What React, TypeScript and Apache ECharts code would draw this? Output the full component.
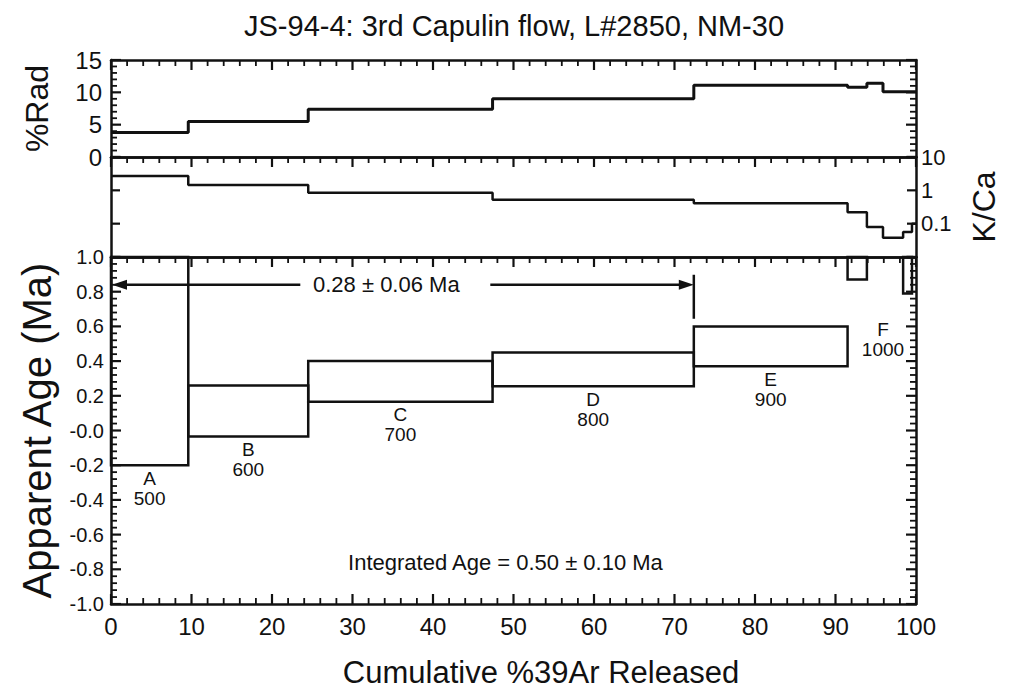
import { useEffect, useRef } from "react";
import * as echarts from "echarts";

// ---- data ----
const stepEdges = [0, 9.6, 24.5, 47.4, 72.4, 91.5, 93.9, 95.9, 98.4, 99.5, 100];
const stepLetters = ["A", "B", "C", "D", "E", "F", "", "", "", ""];
const stepTemps = ["500", "600", "700", "800", "900", "1000", "", "", "", ""];
const radPercent = [3.8, 5.5, 7.4, 9.0, 11.1, 10.8, 11.4, 10.1, 10.1, 10.1];
const kCa = [2.7, 1.45, 0.85, 0.52, 0.41, 0.22, 0.079, 0.038, 0.056, 0.1];
const ageLow = [-0.2, -0.035, 0.165, 0.255, 0.37, 0.87, 1.05, 1.05, 0.79, 1.05];
const ageHigh = [1.6, 0.26, 0.4, 0.45, 0.6, 1.5, 1.6, 1.6, 1.5, 1.5];
const kCaDecades = [0.01, 0.1, 1, 10];
const plateauFrom = 0;
const plateauTo = 72.4;
const plateauAge = 0.84;
const plateauText = "0.28 ± 0.06 Ma";
const integratedText = "Integrated Age = 0.50 ± 0.10 Ma";
const titleText = "JS-94-4: 3rd Capulin flow, L#2850, NM-30";
const xTitle = "Cumulative %39Ar Released";

const INK = "#111";
const FONT = "'Liberation Sans', Arial, sans-serif";

function stepLine(values: number[]) {
  const pts: number[][] = [];
  values.forEach((v, i) => {
    pts.push([stepEdges[i], v]);
    pts.push([stepEdges[i + 1], v]);
  });
  return pts;
}

const axisLine = { show: true, onZero: false, lineStyle: { color: INK, width: 2.5 } };
const noTick = { show: false };

function xAx(grid: number, pos: string, labels = false) {
  return {
    type: "value",
    gridIndex: grid,
    position: pos,
    min: 0,
    max: 100,
    interval: 10,
    axisLine,
    axisTick: noTick,
    axisLabel: labels
      ? { show: true, color: INK, fontFamily: FONT, fontSize: 24, margin: 10 }
      : { show: false },
    splitLine: { show: false },
  };
}

export default function App() {
  const ref = useRef<HTMLDivElement>(null);
  useEffect(() => {
    document.body.style.margin = "0";
    const chart = echarts.init(ref.current!, undefined, { renderer: "svg" });

    const boxData = stepLetters.map((_, i) => [stepEdges[i], stepEdges[i + 1], ageLow[i], ageHigh[i]]);

    const option: any = {
      animation: false,
      backgroundColor: "#fff",
      title: {
        text: titleText,
        left: 509,
        textAlign: "center",
        top: 6,
        textStyle: { color: INK, fontFamily: FONT, fontSize: 29, fontWeight: "normal" },
      },
      grid: [
        { left: 111, right: 96, top: 60, height: 97 },
        { left: 111, right: 96, top: 157, height: 100 },
        { left: 111, right: 96, top: 257, height: 347 },
      ],
      xAxis: [
        xAx(0, "bottom"),
        xAx(0, "top"),
        xAx(1, "bottom"),
        xAx(1, "top"),
        xAx(2, "bottom", true),
        xAx(2, "top"),
      ],
      yAxis: [
        {
          type: "value",
          gridIndex: 0,
          position: "left",
          min: 0,
          max: 15,
          interval: 5,
          axisLine,
          axisTick: noTick,
          axisLabel: { color: INK, fontFamily: FONT, fontSize: 24, margin: 9 },
          splitLine: { show: false },
          name: "%Rad",
          nameLocation: "middle",
          nameRotate: 90,
          nameGap: 58,
          nameTextStyle: { color: INK, fontFamily: FONT, fontSize: 32 },
        },
        {
          type: "value",
          gridIndex: 0,
          position: "right",
          min: 0,
          max: 15,
          interval: 5,
          axisLine,
          axisTick: noTick,
          axisLabel: { show: false },
          splitLine: { show: false },
        },
        {
          type: "log",
          logBase: 10,
          gridIndex: 1,
          position: "right",
          min: 0.01,
          max: 10,
          axisLine,
          axisTick: noTick,
          axisLabel: {
            color: INK,
            fontFamily: FONT,
            fontSize: 22,
            margin: 5,
            formatter: (v: number) => (v >= 0.09 ? String(v) : ""),
          },
          splitLine: { show: false },
          name: "K/Ca",
          nameLocation: "middle",
          nameRotate: 90,
          nameGap: 52,
          nameTextStyle: { color: INK, fontFamily: FONT, fontSize: 32 },
        },
        {
          type: "log",
          logBase: 10,
          gridIndex: 1,
          position: "left",
          min: 0.01,
          max: 10,
          axisLine,
          axisTick: noTick,
          axisLabel: { show: false },
          splitLine: { show: false },
        },
        {
          type: "value",
          gridIndex: 2,
          position: "left",
          min: -1,
          max: 1,
          interval: 0.2,
          axisLine,
          axisTick: noTick,
          axisLabel: {
            color: INK,
            fontFamily: FONT,
            fontSize: 20,
            margin: 7,
            formatter: (v: number) => (Math.abs(v) < 1e-9 ? "-0.0" : v.toFixed(1)),
          },
          splitLine: { show: false },
          name: "Apparent Age (Ma)",
          nameLocation: "middle",
          nameRotate: 90,
          nameGap: 54,
          nameTextStyle: { color: INK, fontFamily: FONT, fontSize: 40 },
        },
        {
          type: "value",
          gridIndex: 2,
          position: "right",
          min: -1,
          max: 1,
          interval: 0.2,
          axisLine,
          axisTick: noTick,
          axisLabel: { show: false },
          splitLine: { show: false },
        },
      ],
      series: [
        {
          type: "line",
          xAxisIndex: 0,
          yAxisIndex: 0,
          data: stepLine(radPercent),
          symbol: "none",
          lineStyle: { color: INK, width: 3 },
        },
        {
          type: "line",
          xAxisIndex: 2,
          yAxisIndex: 2,
          data: stepLine(kCa),
          symbol: "none",
          lineStyle: { color: INK, width: 2.5 },
        },
        {
          type: "custom",
          xAxisIndex: 4,
          yAxisIndex: 4,
          data: boxData,
          encode: { x: [0, 1], y: [2, 3] },
          renderItem: (params: any, api: any) => {
            const i = params.dataIndex;
            const x0 = api.value(0);
            const x1 = api.value(1);
            const lo = api.value(2);
            const hi = api.value(3);
            const p0 = api.coord([x0, hi]);
            const p1 = api.coord([x1, lo]);
            const cs = params.coordSys;
            const rect = echarts.graphic.clipRectByRect(
              { x: p0[0], y: p0[1], width: p1[0] - p0[0], height: p1[1] - p0[1] },
              { x: cs.x, y: cs.y, width: cs.width, height: cs.height }
            );
            const children: any[] = [];
            if (rect && rect.height > 0.5) {
              children.push({
                type: "rect",
                shape: rect,
                style: { fill: "none", stroke: INK, lineWidth: 2.5 },
              });
            }
            const letter = stepLetters[i];
            if (letter && lo < 0.8) {
              const mx = (p0[0] + p1[0]) / 2;
              children.push({
                type: "text",
                x: mx,
                y: p1[1] + 13,
                style: { text: letter, fill: INK, font: `19px ${FONT}`, align: "center", verticalAlign: "middle" },
              });
              children.push({
                type: "text",
                x: mx,
                y: p1[1] + 33,
                style: { text: stepTemps[i], fill: INK, font: `19px ${FONT}`, align: "center", verticalAlign: "middle" },
              });
            }
            return { type: "group", children };
          },
        },
      ],
    };
    chart.setOption(option);

    const conv = (g: number, x: number, y: number) =>
      chart.convertToPixel({ xAxisIndex: g * 2, yAxisIndex: g * 2 }, [x, y]) as number[];
    const px = (x: number, y: number) => conv(2, x, y);

    // ---- tick marks (drawn inward on every frame edge) ----
    const tickPts: { seg: number[][]; major: boolean }[] = [];
    const addLine = (x1: number, y1: number, x2: number, y2: number, major: boolean) =>
      tickPts.push({ seg: [[x1, y1], [x2, y2]], major });

    const yTopOf = [15, 10, 1];
    for (let g = 0; g < 3; g++) {
      for (let k = 0; k <= 50; k++) {
        const v = k * 2;
        const major = k % 5 === 0;
        const len = major ? 10 : 6;
        const p = conv(g, v, yTopOf[g]);
        addLine(p[0], p[1], p[0], p[1] + len, major);
        if (g === 2) {
          const b = conv(g, v, -1);
          addLine(b[0], b[1], b[0], b[1] - len, major);
        }
      }
    }
    for (let k = 0; k <= 15; k++) {
      const major = k % 5 === 0;
      const len = major ? 10 : 6;
      const l = conv(0, 0, k);
      const r = conv(0, 100, k);
      addLine(l[0], l[1], l[0] + len, l[1], major);
      addLine(r[0], r[1], r[0] - len, r[1], major);
    }
    kCaDecades.forEach((d) => {
      const l = conv(1, 0, d);
      const r = conv(1, 100, d);
      addLine(l[0], l[1], l[0] + 9, l[1], true);
      addLine(r[0], r[1], r[0] - 9, r[1], true);
    });
    for (let k = 0; k <= 50; k++) {
      const v = -1 + k * 0.04;
      const major = k % 5 === 0;
      const len = major ? 10 : 6;
      const l = conv(2, 0, v);
      const r = conv(2, 100, v);
      addLine(l[0], l[1], l[0] + len, l[1], major);
      addLine(r[0], r[1], r[0] - len, r[1], major);
    }
    const tickEls = tickPts.map((t) => ({
      type: "polyline",
      z: 10,
      shape: { points: t.seg },
      style: { stroke: INK, lineWidth: t.major ? 2.2 : 1.8, fill: "none" },
    }));

    const L = px(plateauFrom, plateauAge);
    const R = px(plateauTo, plateauAge);
    const C = px(34.2, plateauAge);
    const y = L[1];
    const integ = px(49, -0.76);
    const fLab = px(95.9, 0.58);
    const lineStyle = { stroke: INK, lineWidth: 2.5 };
    const txt = (x: number, yy: number, text: string, size: number) => ({
      type: "text",
      x,
      y: yy,
      style: { text, fill: INK, font: `${size}px ${FONT}`, align: "center", verticalAlign: "middle" },
    });
    chart.setOption({
      graphic: [
        { type: "line", shape: { x1: L[0] + 12, y1: y, x2: C[0] - 86, y2: y }, style: lineStyle },
        { type: "polygon", shape: { points: [[L[0] + 1, y], [L[0] + 16, y - 5], [L[0] + 16, y + 5]] }, style: { fill: INK } },
        txt(C[0], y, plateauText, 22),
        { type: "line", shape: { x1: C[0] + 104, y1: y, x2: R[0] - 12, y2: y }, style: lineStyle },
        { type: "polygon", shape: { points: [[R[0], y], [R[0] - 15, y - 5], [R[0] - 15, y + 5]] }, style: { fill: INK } },
        { type: "line", shape: { x1: R[0], y1: y - 10, x2: R[0], y2: y + 34 }, style: lineStyle },
        txt(integ[0], integ[1], integratedText, 22),
        txt(fLab[0], fLab[1], stepLetters[5], 19),
        txt(fLab[0], fLab[1] + 20, stepTemps[5], 19),
        txt(541, 672, xTitle, 31),
        ...tickEls,
      ],
    });

    return () => chart.dispose();
  }, []);
  return <div ref={ref} style={{ width: 1012, height: 691 }} />;
}
